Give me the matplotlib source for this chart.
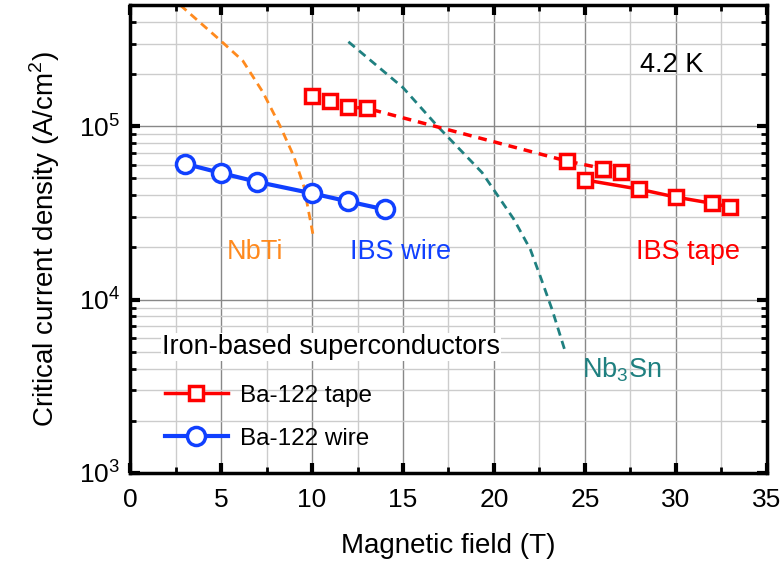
import numpy as np
import matplotlib
matplotlib.use("Agg")
import matplotlib.pyplot as plt
from matplotlib.lines import Line2D
from matplotlib.ticker import LogLocator, MultipleLocator, NullFormatter

plt.rcParams['font.family'] = ['Liberation Sans', 'DejaVu Sans']
plt.rcParams['mathtext.fontset'] = 'custom'
plt.rcParams['mathtext.rm'] = 'Liberation Sans'

# Ba-122 tape (dashed part and solid part)
tape_dash_x = [10, 11, 12, 13, 24, 26, 27]
tape_dash_y = [1.50e5, 1.40e5, 1.29e5, 1.27e5, 6.3e4, 5.7e4, 5.45e4]
tape_solid_x = [25, 28, 30, 32, 33]
tape_solid_y = [4.9e4, 4.33e4, 3.9e4, 3.59e4, 3.42e4]

# Ba-122 wire
wire_x = [3, 5, 7, 10, 12, 14]
wire_y = [6.08e4, 5.37e4, 4.77e4, 4.10e4, 3.68e4, 3.31e4]

# NbTi
nbti_x = [2.75, 5.0, 6.2, 7.3, 8.25, 9.0, 9.55, 10.05]
nbti_y = [5.0e5, 3.1e5, 2.38e5, 1.57e5, 1.0e5, 6.7e4, 4.5e4, 2.38e4]

# Nb3Sn
nb3sn_x = [12, 15.0, 16.9, 19.35, 21.1, 22.0, 22.55, 23.2, 23.95]
nb3sn_y = [3.07e5, 1.67e5, 1.0e5, 5.4e4, 2.9e4, 1.95e4, 1.36e4, 8.75e3, 4.9e3]

red = '#ff0000'
blue = '#1040ff'
orange = '#ff8a1e'
teal = '#1f8080'

fig = plt.figure(figsize=(7.84, 5.61), dpi=100)
ax = fig.add_axes([0.166, 0.157, 0.812, 0.834])

ax.plot(nbti_x, nbti_y, '--', color=orange, lw=2, dashes=(3, 2))
ax.plot(nb3sn_x, nb3sn_y, '--', color=teal, lw=2, dashes=(3, 2))

ax.plot(tape_dash_x, tape_dash_y, '--', color=red, lw=2.5, dashes=(2.5, 2),
        marker='s', ms=10.5, mfc='white', mec=red, mew=2.5)
ax.plot(tape_solid_x, tape_solid_y, '-', color=red, lw=2.5,
        marker='s', ms=10.5, mfc='white', mec=red, mew=2.5)
ax.plot(wire_x, wire_y, '-', color=blue, lw=3,
        marker='o', ms=13, mfc='white', mec=blue, mew=2.5)

ax.set_yscale('log')
ax.set_xlim(0, 35)
ax.set_ylim(1e3, 5e5)

ax.xaxis.set_major_locator(MultipleLocator(5))
ax.xaxis.set_minor_locator(MultipleLocator(2.5))
ax.yaxis.set_major_locator(LogLocator(base=10))
ax.yaxis.set_minor_locator(LogLocator(base=10, subs=np.arange(2, 10)))
ax.yaxis.set_minor_formatter(NullFormatter())

ax.grid(True, which='major', color='#888888', lw=1)
ax.grid(True, which='minor', color='#cccccc', lw=1)
ax.set_axisbelow(True)

ax.tick_params(which='both', direction='in', top=True, right=True,
               labelsize=19, width=2)
ax.tick_params(which='major', length=7, width=3, pad=7)
ax.tick_params(axis='x', which='major', pad=11)
ax.tick_params(which='minor', length=4, width=2)
for s in ax.spines.values():
    s.set_linewidth(2.5)

ax.set_xlabel('Magnetic field (T)', fontsize=20, labelpad=15)
ax.set_ylabel('Critical current density (A/cm$^2$)', fontsize=20, labelpad=12)

ax.text(0.196, 0.472, 'NbTi', color=orange, fontsize=19.5, ha='center', va='center',
        transform=ax.transAxes)
ax.text(0.424, 0.472, 'IBS wire', color=blue, fontsize=19.5, ha='center', va='center',
        transform=ax.transAxes)
ax.text(0.876, 0.472, 'IBS tape', color=red, fontsize=19.5, ha='center', va='center',
        transform=ax.transAxes)
ax.text(0.772, 0.22, 'Nb$_3$Sn', color=teal, fontsize=19.5, ha='center', va='center',
        transform=ax.transAxes)
ax.text(0.851, 0.872, '4.2 K', color='black', fontsize=19.5, ha='center', va='center',
        transform=ax.transAxes)
ax.text(0.05, 0.269, 'Iron-based superconductors', fontsize=19.5, ha='left', va='center',
        transform=ax.transAxes, bbox=dict(fc='white', ec='none', pad=1))

# legend entries
h_tape = Line2D([], [], color=red, lw=2.5, marker='s', ms=10.5, mfc='white',
                mec=red, mew=2.5)
h_wire = Line2D([], [], color=blue, lw=3, marker='o', ms=13, mfc='white',
                mec=blue, mew=2.5)
ax.legend([h_tape, h_wire], ['Ba-122 tape', 'Ba-122 wire'],
          loc='upper left', bbox_to_anchor=(0.02, 0.235), fontsize=17.5,
          frameon=False, handlelength=2.6, handletextpad=0.5, labelspacing=0.85)

fig.savefig('out.png', dpi=100)
